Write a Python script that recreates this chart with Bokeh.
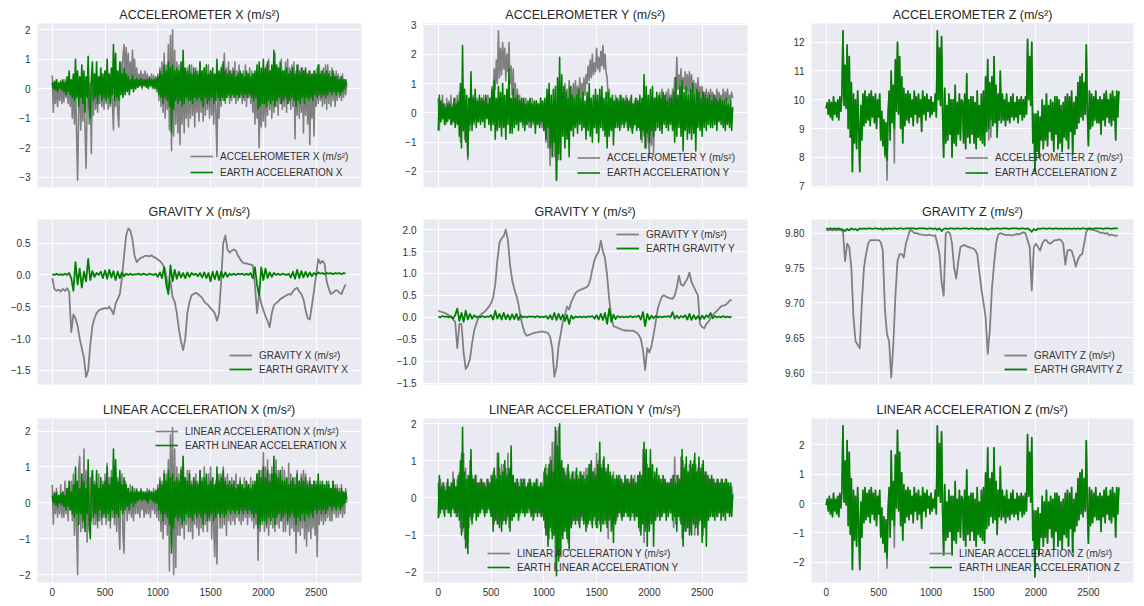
from bokeh.plotting import figure
from bokeh.models import Range1d, FixedTicker, CustomJSTickFormatter, Legend
from bokeh.layouts import column, row
from bokeh.embed import file_html
from bokeh.resources import INLINE

# sample indices: noisy signals read every 10th sample, smooth gravity every 20th
X10 = list(range(0, 2800, 10))
X20 = list(range(0, 2800, 20))
X_TICKS = [0, 500, 1000, 1500, 2000, 2500]

titles = ["ACCELEROMETER X (m/s²)", "ACCELEROMETER Y (m/s²)", "ACCELEROMETER Z (m/s²)",
          "GRAVITY X (m/s²)", "GRAVITY Y (m/s²)", "GRAVITY Z (m/s²)",
          "LINEAR ACCELERATION X (m/s²)", "LINEAR ACCELERATION Y (m/s²)", "LINEAR ACCELERATION Z (m/s²)"]
earth_labels = ["EARTH ACCELERATION X", "EARTH ACCELERATION Y", "EARTH ACCELERATION Z",
                "EARTH GRAVITY X", "EARTH GRAVITY Y", "EARTH GRAVITY Z",
                "EARTH LINEAR ACCELERATION X", "EARTH LINEAR ACCELERATION Y", "EARTH LINEAR ACCELERATION Z"]

acc_x = [0.45, -0.8, 0.2, -0.5, 0.3, -0.6, 0.1, -0.4, 0.25, -0.5,
         0.2, -0.45, 0.3, -0.3, 0.15, -0.5, 0.3, -0.6, 0.2, -1.0,
         0.4, -1.2, 0.5, -1.5, -3.1, -0.8, 0.3, -1.4, 0.2, -1.1,
         0.4, -1.3, -2.7, -0.6, 0.3, -1.2, 0.2, -2.2, 0.4, -0.9,
         0.5, -0.7, 0.3, -0.8, 0.4, -0.5, 0.5, -0.6, 0.3, -0.7,
         0.6, -0.5, 0.4, -0.7, 0.5, -0.6, 0.3, -0.5, -1.4, 0.4,
         -0.6, 0.5, -0.8, -1.3, 0.3, 0.9, 0.2, 1.1, 1.5, 0.3,
         1.4, 0.2, 1.2, 0.1, 0.9, 0.3, 1.3, 0.2, 1.0, 0.0,
         0.7, 0.05, 0.5, 0.1, 0.6, 0.0, 0.5, 0.15, 0.6, 0.1,
         0.5, 0.05, 0.4, 0.1, 0.5, 0.0, 0.45, 0.1, 0.4, -0.1,
         0.5, -0.4, 0.7, -0.6, 0.9, -0.8, 1.2, -1.0, 0.8, -0.7,
         1.5, -1.4, 1.8, -2.1, 2.0, -1.6, 1.3, -1.2, 0.9, -1.5,
         0.8, -1.9, 0.6, -1.2, 0.9, -1.5, 0.5, -1.0, 0.7, -1.3,
         0.6, -1.0, 0.8, -0.9, 0.5, -1.3, 0.7, -0.8, 0.6, -1.1,
         0.9, -0.8, 0.6, -1.1, 0.7, -0.9, 0.5, -0.7, 0.8, -1.0,
         0.6, -0.9, 0.5, -1.2, 0.4, -0.8, -2.3, 0.3, -1.0, 0.5,
         -0.6, 0.8, -0.4, 1.2, -0.5, 0.7, -0.3, 0.9, -0.5, 0.6,
         -0.4, 0.7, -0.3, 0.9, -0.5, 0.6, -0.4, 0.8, -0.3, 0.5,
         -0.5, 0.6, -0.4, 0.8, -0.6, 0.5, -0.3, 0.7, -0.5, 0.6,
         -0.8, 0.5, -1.2, 0.3, -1.0, 0.2, -2.0, 0.3, -1.3, 0.4,
         -1.1, 0.6, -1.3, 0.8, -0.9, 1.0, -0.7, 0.6, -1.0, 0.7,
         -0.8, 1.2, -0.6, 0.8, -0.9, 0.7, -0.5, 1.0, -0.7, 0.6,
         -0.6, 0.9, -0.8, 1.0, -0.5, 0.7, -0.7, 0.8, -0.6, 0.9,
         -1.7, 0.6, -0.9, 0.8, -1.0, 0.5, -0.8, 0.7, -1.5, 0.6,
         -0.9, 0.5, -1.2, 0.6, -1.9, 0.4, -1.0, 0.5, -1.6, 0.6,
         -0.6, 0.7, -0.5, 0.8, -0.4, 0.6, -0.6, 0.7, -0.5, 0.8,
         -0.7, 0.8, -0.5, 0.6, -0.6, 0.7, -0.4, 0.5, -0.6, 0.6,
         -0.4, 0.5, -0.3, 0.4, -0.4, 0.5, -0.3, 0.3, -0.2, 0.1]
earth_acc_x = [0.2, 0.0, 0.25, -0.05, 0.3, -0.1, 0.2, 0.0, 0.25, -0.05,
               0.3, -0.1, 0.2, -0.2, 0.4, -0.1, 0.6, -0.2, 0.3, -0.3,
               0.5, -0.4, 1.0, -0.3, 0.6, -0.6, 0.4, -0.3, 0.8, -0.5,
               0.6, -0.8, 0.4, -0.3, 1.1, -0.5, -1.0, 0.3, 0.9, -0.4,
               0.5, -0.3, 0.9, -0.5, 0.4, -0.2, 0.7, -0.4, 0.5, -0.3,
               0.6, -0.4, 1.0, -0.3, 0.5, -0.5, 0.7, -0.2, 1.5, -0.4,
               1.2, -0.3, 0.6, -0.4, 0.9, -0.2, 0.5, -0.3, 0.7, -0.2,
               0.5, -0.1, 0.4, -0.2, 0.3, 0.0, 0.45, -0.1, 0.3, 0.0,
               0.35, 0.05, 0.3, 0.1, 0.35, 0.05, 0.3, 0.1, 0.3, 0.05,
               0.3, 0.0, 0.35, 0.1, 0.3, 0.05, 0.3, 0.0, 0.35, 0.0,
               0.4, -0.2, 0.6, -0.3, 0.5, -0.5, 0.8, -0.3, 0.6, -0.4,
               0.9, -0.6, 0.7, -1.5, 0.8, -0.7, 0.6, -0.4, 0.7, -0.5,
               0.6, -0.4, 0.9, -0.6, 1.3, -0.5, 0.7, -0.3, 0.6, -0.4,
               0.8, -0.4, 0.5, -0.5, 0.7, -0.3, 0.6, -0.4, 0.5, -0.3,
               0.9, -0.4, 0.6, -0.6, 0.7, -0.3, 0.8, -0.5, 0.5, -0.4,
               0.6, -0.3, 0.7, -0.5, 0.5, -0.4, 1.0, -0.3, 0.6, -0.4,
               0.7, -0.3, 0.9, -0.4, 0.6, -0.3, 0.5, -0.2, 0.6, -0.3,
               0.5, -0.2, 0.6, -0.3, 0.4, -0.2, 0.5, -0.3, 0.6, -0.2,
               0.5, -0.3, 0.4, -0.2, 0.6, -0.3, 0.5, -0.2, 0.4, -0.3,
               0.5, -0.4, 0.6, -0.3, 0.8, -0.7, 0.9, -0.6, 0.7, -0.5,
               1.0, -0.5, 0.7, -0.6, 0.9, -0.4, 0.6, -0.5, 0.8, -0.4,
               1.3, -0.6, 0.8, -0.4, 0.7, -0.3, 0.9, -0.5, 0.6, -0.4,
               0.6, -0.3, 0.7, -0.5, 0.5, -0.4, 0.6, -0.3, 0.7, -0.4,
               0.5, -0.6, 0.8, -0.4, 0.6, -0.5, 0.7, -0.3, 0.6, -0.5,
               0.7, -0.3, 0.5, -0.4, 0.6, -0.3, 0.5, -0.4, 0.6, -0.2,
               0.5, -0.3, 0.8, -0.2, 0.5, -0.3, 0.6, -0.2, 0.5, -0.3,
               0.6, -0.2, 0.5, -0.1, 0.4, -0.2, 0.6, -0.1, 0.4, -0.2,
               0.4, -0.1, 0.3, -0.2, 0.4, -0.1, 0.3, 0.0, 0.3, 0.1]

acc_y = [0.5, -0.6, 0.4, -0.3, 0.6, -0.2, 0.3, -0.4, 0.5, -0.3,
         0.4, -0.2, 0.6, -0.4, 0.3, -0.3, 0.5, -0.2, 0.6, -0.4,
         0.7, -1.0, 0.5, -0.6, 0.6, -0.9, 0.4, -0.5, -1.6, 0.3,
         -0.6, 0.5, -0.3, 0.6, -0.4, 0.4, -0.2, 0.5, -0.3, 0.4,
         0.0, 0.5, 0.1, 0.6, -0.1, 0.5, 0.2, 0.6, 0.1, 0.5,
         0.3, 0.9, 0.5, 1.5, 0.8, 1.8, 1.0, 2.8, 1.2, 2.2,
         1.3, 2.4, 1.5, 2.2, 1.1, 2.0, 1.4, 2.4, 1.0, 1.6,
         0.6, 1.5, 0.3, 1.0, -0.2, 0.8, 0.0, 0.6, -0.3, 0.5,
         -0.5, 0.4, -0.3, 0.5, -0.4, 0.3, -0.5, 0.4, -0.3, 0.5,
         -0.4, 0.3, -0.5, 0.4, -0.3, 0.3, -0.4, 0.5, -0.5, 0.3,
         -0.6, 0.2, -1.0, 0.1, -1.2, -0.2, -1.8, -0.4, -1.0, 0.3,
         -1.5, -0.3, -2.3, -0.8, -1.6, -0.2, 0.6, -0.5, 0.4, -0.3,
         1.0, 0.2, 0.8, 0.0, 1.1, 0.3, 0.9, 0.2, 1.0, 0.4,
         1.1, 0.4, 0.9, 0.3, 1.2, 0.5, 1.0, 0.4, 1.2, 0.6,
         1.3, 1.0, 1.6, 1.1, 1.8, 1.2, 2.0, 1.3, 1.7, 1.4,
         2.2, 1.5, 1.9, 1.4, 2.1, 1.6, 2.3, 1.5, 2.0, 1.4,
         1.2, 0.5, 0.8, -0.3, 0.5, -0.2, 0.4, -0.3, 0.6, -0.2,
         0.5, -0.4, 0.6, -0.5, 0.4, -0.3, 0.5, -0.4, 0.6, -0.5,
         0.4, -0.4, 0.5, -0.6, 0.3, -0.5, 0.4, -0.4, 0.5, -0.5,
         0.4, -0.6, 0.3, -1.0, 0.1, -0.8, 0.2, -1.2, -0.2, -0.9,
         -1.5, 0.0, -1.1, 0.2, -1.4, 0.3, 0.5, -0.2, 0.4, 0.0,
         0.7, 0.1, 0.8, 0.2, 0.6, 0.0, 0.7, 0.2, 0.8, 0.3,
         0.6, 0.3, 0.8, 0.4, 1.2, 0.6, 1.9, 0.8, 1.3, 0.7,
         1.5, 0.6, 1.2, 0.8, 1.4, 0.7, 1.3, 0.6, 1.4, 0.7,
         1.3, 0.5, 1.1, 0.6, 1.0, 0.4, 1.2, 0.5, 0.9, 0.4,
         0.9, 0.3, 0.7, 0.4, 0.8, 0.2, 0.7, 0.3, 0.8, 0.3,
         0.7, 0.3, 0.6, 0.2, 0.8, 0.3, 0.7, 0.4, 0.6, 0.3,
         0.8, 0.3, 0.7, 0.4, 0.8, 0.3, 0.6, 0.4, 0.7, 0.5]
earth_acc_y = [-0.6, 0.6, -0.3, 0.4, -0.2, 0.3, -0.4, 0.2, -0.3, 0.3,
               -0.2, 0.3, -0.4, 0.2, -0.3, 0.5, -0.5, 0.3, -0.4, 0.4,
               -0.8, 1.0, -1.2, 2.3, -0.6, 0.8, -1.0, 0.6, -1.5, 0.5,
               -0.4, 1.4, -0.6, 0.5, -0.3, 0.8, -0.5, 0.4, -0.3, 0.6,
               -0.4, 0.5, -0.3, 0.4, -0.5, 0.6, -0.2, 0.3, -0.4, 0.5,
               -0.6, 0.8, -0.4, 1.1, -0.9, 0.5, -0.6, 0.9, -0.5, 0.7,
               -0.8, 1.0, -0.5, 0.6, -0.9, 0.8, -0.4, 1.5, -0.7, 0.5,
               -0.7, 0.8, -0.5, 0.5, -0.4, 0.6, -0.6, 0.4, -0.3, 0.5,
               -0.4, 0.5, -0.6, 0.3, -0.4, 0.4, -0.3, 0.5, -0.5, 0.3,
               -0.3, 0.4, -0.7, 0.4, -0.4, 0.3, -0.5, 0.5, -0.3, 0.4,
               -0.6, 0.5, -0.9, 0.8, -0.5, 1.0, -1.2, 0.6, -1.5, 0.8,
               -1.0, 0.9, -2.3, 1.2, -1.4, 1.9, -1.6, 1.3, -0.8, 0.9,
               -1.2, 0.7, -0.9, 0.5, -1.5, 0.9, -0.6, 0.6, -0.8, 0.5,
               -0.5, 0.6, -0.7, 0.8, -0.4, 0.5, -0.6, 0.7, -0.5, 0.4,
               -0.9, 0.7, -0.6, 1.0, -0.8, 0.5, -1.0, 0.6, -0.5, 0.8,
               -0.7, 0.6, -1.0, 0.8, -0.5, 0.9, -0.6, 0.5, -0.8, 0.7,
               -1.2, 0.7, -0.8, 0.5, -0.6, 0.6, -1.1, 0.4, -0.5, 0.5,
               -0.5, 0.4, -0.6, 0.6, -0.4, 0.5, -0.5, 0.4, -0.3, 0.5,
               -0.6, 0.4, -0.5, 0.6, -0.7, 0.3, -0.4, 0.5, -0.6, 0.4,
               -0.5, 0.6, -0.9, 0.5, -0.6, 1.3, -1.2, 0.9, -0.7, 0.6,
               -1.0, 0.8, -0.6, 0.9, -0.8, 0.5, -0.6, 0.7, -0.5, 0.6,
               -0.6, 0.5, -0.7, 0.7, -0.4, 0.6, -0.5, 0.4, -0.6, 0.5,
               -0.4, 0.5, -0.6, 0.7, -1.0, 1.2, -0.8, 0.6, -0.5, 0.9,
               -0.8, 1.1, -1.3, 0.7, -0.6, 0.9, -0.9, 0.6, -0.7, 0.8,
               -0.9, 1.0, -0.7, 0.6, -1.3, 0.8, -0.5, 0.7, -0.6, 0.5,
               -0.8, 0.7, -0.5, 0.6, -0.6, 0.5, -0.4, 0.6, -0.5, 0.4,
               -0.5, 0.6, -0.4, 0.5, -0.6, 0.4, -0.3, 0.5, -0.4, 0.4,
               -0.5, 0.4, -0.6, 0.5, -0.4, 0.3, -0.5, 0.4, -0.6, 0.2]

acc_z = [9.7, 9.9, 9.5, 10.0, 9.4, 9.9, 9.3, 10.1, 9.5, 9.9,
         9.4, 10.0, 9.3, 10.1, 9.6, 10.2, 12.4, 9.8, 11.2, 9.7,
         11.9, 9.0, 11.5, 8.7, 10.6, 7.5, 10.2, 8.5, 10.0, 8.3,
         10.3, 9.0, 7.5, 9.8, 8.6, 10.2, 9.1, 10.3, 9.2, 10.1,
         9.3, 10.2, 9.1, 10.3, 9.4, 10.1, 9.2, 10.2, 9.0, 10.0,
         9.4, 10.2, 8.6, 9.6, 8.4, 9.3, 8.0, 9.2, 7.2, 9.5,
         10.3, 8.6, 11.0, 9.2, 10.5, 7.8, 11.4, 9.6, 12.0, 9.5,
         11.5, 9.0, 10.8, 8.5, 10.4, 9.1, 10.2, 9.3, 10.3, 9.2,
         10.2, 9.4, 10.0, 9.1, 10.3, 9.5, 10.1, 9.2, 10.2, 9.4,
         10.0, 8.9, 10.3, 9.5, 10.1, 9.3, 10.2, 9.6, 10.0, 9.4,
         10.1, 9.5, 9.9, 9.6, 10.2, 9.4, 12.4, 10.0, 11.8, 9.8,
         12.2, 9.5, 8.0, 10.4, 8.5, 9.8, 8.6, 10.2, 8.8, 10.0,
         8.0, 10.0, 8.5, 10.5, 8.4, 9.9, 8.8, 10.2, 8.6, 10.0,
         9.9, 8.5, 10.2, 8.3, 10.9, 8.7, 10.0, 8.5, 10.1, 8.8,
         10.1, 8.5, 9.9, 8.3, 10.3, 8.7, 9.8, 8.6, 10.2, 8.5,
         10.3, 8.4, 10.8, 8.9, 11.4, 8.6, 10.6, 8.7, 10.8, 9.1,
         11.5, 9.2, 10.5, 8.7, 10.2, 9.3, 11.0, 9.2, 10.2, 9.3,
         10.0, 9.1, 10.2, 9.3, 9.9, 9.2, 10.1, 9.4, 10.2, 9.3,
         9.9, 9.4, 10.1, 9.2, 10.0, 9.5, 10.1, 9.3, 10.0, 9.4,
         10.1, 9.5, 12.1, 10.0, 11.5, 9.8, 12.0, 8.5, 9.5, 7.5,
         9.5, 8.2, 9.6, 8.0, 9.4, 8.6, 10.0, 8.3, 9.8, 8.6,
         10.2, 8.4, 9.8, 8.9, 10.0, 8.6, 9.9, 8.2, 10.1, 8.8,
         10.1, 8.3, 10.0, 8.5, 9.8, 8.2, 9.9, 8.7, 10.1, 8.6,
         10.2, 8.3, 10.1, 8.9, 10.3, 8.1, 9.9, 8.8, 10.1, 9.0,
         10.6, 9.2, 10.8, 9.4, 10.9, 9.3, 10.6, 9.5, 11.9, 9.6,
         8.4, 10.3, 9.0, 10.2, 9.1, 10.1, 9.3, 10.3, 9.2, 10.0,
         9.2, 10.1, 8.8, 10.0, 9.3, 10.2, 9.1, 10.3, 9.4, 10.0,
         9.2, 10.2, 9.1, 10.3, 9.3, 10.1, 8.6, 10.3, 9.4, 10.3]
earth_acc_z = [9.7, 9.9, 9.5, 10.0, 9.4, 9.9, 9.3, 10.1, 9.5, 9.9,
               9.4, 10.0, 9.3, 10.1, 9.6, 10.2, 12.4, 9.8, 11.2, 9.7,
               11.9, 9.0, 11.5, 8.7, 10.6, 7.5, 10.2, 8.5, 10.0, 8.3,
               10.3, 9.0, 7.5, 9.8, 8.6, 10.2, 9.1, 10.3, 9.2, 10.1,
               9.3, 10.2, 9.1, 10.3, 9.4, 10.1, 9.2, 10.2, 9.0, 10.0,
               9.4, 10.2, 8.6, 9.6, 8.4, 9.3, 8.1, 9.2, 7.9, 9.5,
               10.3, 8.6, 11.0, 9.2, 10.5, 9.0, 11.4, 9.6, 12.0, 9.5,
               11.5, 9.0, 10.8, 8.5, 10.4, 9.1, 10.2, 9.3, 10.3, 9.2,
               10.2, 9.4, 10.0, 9.1, 10.3, 9.5, 10.1, 9.2, 10.2, 9.4,
               10.0, 8.9, 10.3, 9.5, 10.1, 9.3, 10.2, 9.6, 10.0, 9.4,
               10.1, 9.5, 9.9, 9.6, 10.2, 9.4, 12.4, 10.0, 11.8, 9.8,
               12.2, 9.5, 8.0, 10.4, 8.5, 9.8, 8.6, 10.2, 8.8, 10.0,
               8.0, 10.0, 8.5, 10.5, 8.4, 9.9, 8.8, 10.2, 8.6, 10.0,
               9.9, 8.5, 10.2, 8.3, 10.9, 8.7, 10.0, 8.5, 10.1, 8.8,
               10.1, 8.5, 9.9, 8.3, 10.3, 8.7, 9.8, 8.6, 10.2, 8.5,
               10.3, 8.4, 10.8, 8.9, 11.4, 9.0, 10.6, 9.3, 10.8, 9.1,
               11.5, 9.2, 10.5, 8.7, 10.2, 9.3, 11.0, 9.2, 10.2, 9.3,
               10.0, 9.1, 10.2, 9.3, 9.9, 9.2, 10.1, 9.4, 10.2, 9.3,
               9.9, 9.4, 10.1, 9.2, 10.0, 9.5, 10.1, 9.3, 10.0, 9.4,
               10.1, 9.5, 12.1, 10.0, 11.5, 9.8, 12.0, 8.5, 9.5, 7.5,
               9.5, 8.2, 9.6, 8.0, 9.4, 8.6, 10.0, 8.3, 9.8, 8.6,
               10.2, 8.4, 9.8, 8.9, 10.0, 8.6, 9.9, 8.2, 10.1, 8.8,
               10.1, 8.3, 10.0, 8.5, 9.8, 8.2, 9.9, 8.7, 10.1, 8.6,
               10.2, 8.3, 10.1, 8.9, 10.3, 8.1, 9.9, 8.8, 10.1, 9.0,
               10.6, 9.2, 10.8, 9.4, 10.9, 9.3, 10.6, 9.5, 11.9, 9.6,
               8.4, 10.3, 9.0, 10.2, 9.1, 10.1, 9.3, 10.3, 9.2, 10.0,
               9.2, 10.1, 8.8, 10.0, 9.3, 10.2, 9.1, 10.3, 9.4, 10.0,
               9.2, 10.2, 9.1, 10.3, 9.3, 10.1, 8.6, 10.3, 9.4, 10.3]

grav_x = [-0.05, -0.22, -0.25, -0.23, -0.26, -0.22, -0.25, -0.21, -0.27, -0.9,
          -0.62, -0.68, -0.8, -1.0, -1.15, -1.3, -1.6, -1.5, -1.1, -0.8,
          -0.68, -0.6, -0.56, -0.54, -0.53, -0.52, -0.53, -0.5, -0.55, -0.62,
          -0.45, -0.38, -0.3, -0.05, 0.3, 0.62, 0.73, 0.7, 0.55, 0.3,
          0.2, 0.24, 0.27, 0.28, 0.3, 0.3, 0.29, 0.31, 0.28, 0.27,
          0.24, 0.22, 0.18, 0.12, 0.0, -0.25, -0.1, -0.35, -0.42, -0.6,
          -0.85, -1.05, -1.18, -1.0, -0.6, -0.42, -0.32, -0.3, -0.28, -0.3,
          -0.33, -0.36, -0.42, -0.45, -0.48, -0.52, -0.56, -0.6, -0.72, -0.6,
          -0.1, 0.5, 0.62, 0.4, 0.35, 0.38, 0.4, 0.38, 0.3, 0.25,
          0.2, 0.18, 0.18, 0.17, 0.16, 0.15, -0.15, -0.6, -0.3, -0.45,
          -0.55, -0.65, -0.72, -0.82, -0.6, -0.48, -0.44, -0.42, -0.38, -0.36,
          -0.34, -0.32, -0.3, -0.31, -0.26, -0.22, -0.2, -0.26, -0.3, -0.38,
          -0.55, -0.68, -0.7, -0.48, -0.25, 0.0, 0.25, 0.18, 0.22, 0.18,
          -0.1, -0.22, -0.3, -0.28, -0.25, -0.24, -0.28, -0.3, -0.22, -0.15]
earth_grav_x = [0.01, 0.0, 0.02, 0.0, 0.01, 0.0, 0.02, 0.0, 0.03, -0.05,
                -0.25, 0.2, -0.15, 0.1, -0.2, 0.05, -0.1, 0.25, -0.08, 0.06,
                -0.03, 0.03, 0.0, 0.05, -0.05, 0.07, -0.06, 0.08, -0.04, 0.06,
                -0.08, 0.05, -0.05, 0.04, -0.02, 0.02, 0.0, 0.02, 0.0, 0.01,
                0.01, 0.02, 0.0, 0.02, 0.01, 0.0, 0.02, 0.01, 0.0, 0.02,
                -0.03, 0.04, -0.05, 0.12, -0.15, -0.3, 0.15, -0.1, 0.08, -0.06,
                0.05, -0.04, 0.03, -0.05, 0.04, -0.03, 0.03, 0.0, 0.02, -0.02,
                0.03, -0.04, 0.04, -0.05, 0.03, -0.1, 0.05, -0.07, 0.06, -0.08,
                0.05, -0.04, 0.04, -0.03, 0.02, 0.0, 0.02, 0.0, 0.02, 0.01,
                0.02, 0.0, 0.02, 0.0, 0.03, -0.05, 0.12, -0.15, -0.33, 0.12,
                -0.08, 0.1, -0.05, 0.04, -0.03, 0.03, 0.0, 0.02, 0.0, 0.02,
                0.01, 0.0, 0.02, -0.04, 0.05, -0.06, 0.08, -0.05, 0.06, -0.04,
                0.05, -0.03, 0.04, -0.02, 0.03, 0.0, 0.04, 0.02, 0.03, 0.01,
                0.03, 0.02, 0.03, 0.01, 0.03, 0.02, 0.03, 0.01, 0.03, 0.02]

grav_y = [0.15, 0.13, 0.12, 0.1, 0.08, 0.05, 0.02, -0.05, -0.1, -0.7,
          -0.15, -0.15, -0.8, -1.18, -1.1, -0.95, -0.6, -0.3, -0.15, 0.0,
          0.05, 0.1, 0.13, 0.18, 0.25, 0.32, 0.45, 0.75, 1.3, 1.7,
          1.8, 1.85, 2.0, 1.75, 1.2, 0.85, 0.65, 0.5, 0.3, 0.0,
          -0.2, -0.36, -0.42, -0.4, -0.38, -0.36, -0.35, -0.34, -0.33, -0.32,
          -0.33, -0.34, -0.36, -0.45, -0.7, -1.35, -1.15, -0.65, -0.38, -0.1,
          0.05, 0.25, 0.18, 0.35, 0.45, 0.55, 0.6, 0.62, 0.64, 0.66,
          0.68, 0.72, 0.85, 1.1, 1.3, 1.42, 1.5, 1.75, 1.5, 1.35,
          0.95, 0.4, 0.0, -0.2, -0.22, -0.24, -0.26, -0.28, -0.3, -0.3,
          -0.3, -0.31, -0.3, -0.32, -0.35, -0.4, -0.5, -0.75, -1.2, -0.7,
          -0.8, -0.65, -0.4, -0.1, 0.2, 0.35, 0.48, 0.5, 0.47, 0.45,
          0.43, 0.42, 0.5, 0.68, 0.95, 0.75, 0.72, 0.8, 0.88, 1.02,
          0.8, 0.7, 0.6, 0.5, -0.15, -0.22, -0.25, -0.15, -0.1, -0.02,
          0.05, 0.1, 0.15, 0.2, 0.25, 0.27, 0.28, 0.32, 0.38, 0.4]
earth_grav_y = [0.02, 0.0, 0.03, 0.01, 0.02, 0.0, 0.02, -0.03, 0.05, 0.2,
                -0.08, 0.1, -0.1, 0.15, -0.05, 0.08, -0.03, 0.05, 0.0, 0.02,
                0.0, 0.03, 0.0, 0.02, 0.01, 0.05, -0.05, 0.15, -0.03, 0.08,
                -0.05, 0.1, -0.04, 0.06, -0.05, 0.07, -0.04, 0.08, -0.06, 0.05,
                0.0, 0.02, 0.0, 0.02, 0.01, 0.02, 0.0, 0.03, 0.0, 0.02,
                0.0, 0.03, -0.03, 0.05, -0.05, 0.1, -0.06, 0.08, -0.05, 0.06,
                -0.08, 0.05, -0.15, 0.04, -0.03, 0.02, 0.0, 0.02, 0.0, 0.02,
                0.0, 0.02, 0.01, 0.03, -0.03, 0.05, -0.05, 0.08, -0.06, 0.1,
                -0.15, 0.2, -0.1, 0.06, -0.04, 0.03, 0.0, 0.02, 0.0, 0.02,
                0.0, 0.03, 0.0, 0.02, 0.01, 0.04, -0.05, 0.12, -0.2, 0.08,
                -0.05, 0.04, -0.02, 0.03, 0.0, 0.02, 0.0, 0.02, 0.01, 0.03,
                0.0, 0.12, -0.03, 0.04, -0.02, 0.03, 0.0, 0.05, -0.05, 0.08,
                -0.06, 0.05, -0.04, 0.03, -0.05, 0.04, -0.03, 0.05, 0.0, 0.1,
                -0.02, 0.03, 0.0, 0.02, 0.0, 0.03, 0.0, 0.02, 0.0, 0.02]

grav_z = [9.805, 9.804, 9.805, 9.804, 9.805, 9.804, 9.805, 9.804, 9.803, 9.76,
          9.785, 9.78, 9.75, 9.68, 9.645, 9.64, 9.635, 9.7, 9.75, 9.77,
          9.785, 9.79, 9.79, 9.79, 9.79, 9.79, 9.787, 9.775, 9.69, 9.655,
          9.645, 9.593, 9.64, 9.71, 9.76, 9.77, 9.77, 9.765, 9.785, 9.795,
          9.805, 9.803, 9.8, 9.8, 9.799, 9.798, 9.798, 9.797, 9.797, 9.798,
          9.797, 9.796, 9.797, 9.785, 9.77, 9.73, 9.71, 9.8, 9.802, 9.8,
          9.785, 9.75, 9.735, 9.76, 9.78, 9.782, 9.783, 9.781, 9.78, 9.779,
          9.778, 9.776, 9.77, 9.745, 9.72, 9.7, 9.68, 9.627, 9.66, 9.72,
          9.755, 9.785, 9.798, 9.8, 9.799, 9.798, 9.797, 9.798, 9.797, 9.797,
          9.798, 9.799, 9.798, 9.8, 9.801, 9.8, 9.79, 9.78, 9.718, 9.78,
          9.785, 9.78, 9.775, 9.785, 9.79, 9.79, 9.786, 9.785, 9.788, 9.79,
          9.79, 9.791, 9.79, 9.785, 9.755, 9.775, 9.776, 9.775, 9.765, 9.752,
          9.762, 9.768, 9.77, 9.785, 9.802, 9.806, 9.805, 9.805, 9.804, 9.803,
          9.802, 9.8, 9.801, 9.799, 9.8, 9.797, 9.798, 9.797, 9.796, 9.797]
earth_grav_z = [9.807, 9.806, 9.807, 9.806, 9.807, 9.806, 9.807, 9.806, 9.805, 9.803,
                9.806, 9.804, 9.807, 9.805, 9.806, 9.804, 9.807, 9.806, 9.807, 9.806,
                9.807, 9.807, 9.806, 9.807, 9.807, 9.806, 9.807, 9.805, 9.807, 9.806,
                9.807, 9.806, 9.807, 9.807, 9.806, 9.807, 9.807, 9.806, 9.807, 9.807,
                9.807, 9.807, 9.807, 9.806, 9.807, 9.807, 9.807, 9.807, 9.806, 9.807,
                9.807, 9.806, 9.807, 9.805, 9.807, 9.803, 9.806, 9.807, 9.806, 9.807,
                9.807, 9.806, 9.807, 9.807, 9.806, 9.807, 9.807, 9.807, 9.806, 9.807,
                9.807, 9.806, 9.807, 9.806, 9.807, 9.806, 9.807, 9.805, 9.806, 9.807,
                9.806, 9.807, 9.807, 9.806, 9.807, 9.807, 9.807, 9.806, 9.807, 9.807,
                9.807, 9.807, 9.806, 9.807, 9.807, 9.806, 9.807, 9.805, 9.802, 9.806,
                9.804, 9.807, 9.806, 9.807, 9.807, 9.806, 9.807, 9.807, 9.806, 9.807,
                9.807, 9.806, 9.807, 9.806, 9.807, 9.806, 9.807, 9.806, 9.807, 9.806,
                9.807, 9.806, 9.807, 9.807, 9.806, 9.807, 9.807, 9.806, 9.807, 9.807,
                9.807, 9.807, 9.806, 9.807, 9.807, 9.807, 9.806, 9.807, 9.807, 9.807]

lin_x = [0.5, -0.6, 0.3, -0.3, 0.4, -0.4, 0.2, -0.3, 0.5, -0.4,
         0.3, -0.4, 0.6, -0.3, 0.4, -0.5, 0.3, -0.2, 0.6, -0.5,
         0.8, -0.9, 0.5, -0.6, -2.0, 0.9, 1.3, -0.8, 0.6, -0.7,
         1.5, -0.5, 0.9, -1.1, 0.6, -0.8, 0.7, -0.5, 0.9, -0.6,
         0.6, -0.6, 0.5, -0.7, 0.8, -0.5, 0.4, -0.6, 0.6, -0.4,
         0.8, -0.6, 1.1, -0.5, 0.7, -0.7, 0.9, -0.4, 0.6, -0.6,
         1.0, -0.8, 0.7, -0.6, -1.3, 0.5, 0.8, -0.9, -1.4, 0.6,
         0.5, -0.5, 0.4, -0.3, 0.5, -0.4, 0.3, -0.5, 0.4, -0.3,
         0.4, -0.3, 0.3, -0.4, 0.4, -0.2, 0.3, -0.4, 0.2, -0.3,
         0.4, -0.3, 0.3, -0.4, 0.3, -0.2, 0.4, -0.3, 0.3, -0.4,
         0.5, -0.5, 0.7, -0.8, 0.6, -1.0, 0.9, -0.6, 0.8, -0.9,
         1.2, -1.9, 1.9, -1.2, 2.1, -2.0, 1.5, -1.8, 1.0, -0.9,
         0.8, -0.9, 1.0, -0.7, 1.2, -1.0, 0.7, -0.6, 0.9, -0.8,
         0.9, -0.8, 0.6, -1.0, 0.7, -0.6, 0.8, -0.7, 0.6, -0.9,
         0.9, -0.7, 0.7, -0.8, 1.0, -0.6, 0.6, -0.8, 0.8, -0.5,
         1.0, -1.0, 0.7, -0.8, -1.5, 0.6, -1.7, 0.5, 0.8, -0.7,
         0.8, -0.7, 1.0, -0.6, 0.7, -0.9, 0.8, -0.5, 0.6, -0.6,
         0.7, -0.5, 0.6, -0.6, 0.8, -0.4, 0.5, -0.5, 0.7, -0.6,
         0.5, -0.5, 0.7, -0.4, 0.6, -0.6, 0.5, -0.4, 0.7, -0.5,
         0.6, -0.7, 0.5, -0.6, 0.8, -1.6, 0.7, -0.8, 0.9, -0.6,
         1.4, -0.8, 1.0, -0.7, 1.2, -0.9, 0.8, -0.6, 1.0, -0.7,
         0.8, -0.8, 1.2, -0.6, 0.9, -0.7, 0.8, -0.5, 1.0, -0.8,
         0.9, -0.8, 0.7, -0.6, 1.1, -0.9, 0.8, -0.7, 0.6, -0.8,
         0.7, -1.4, 0.9, -0.8, 0.6, -0.9, 0.8, -0.7, 0.9, -1.0,
         0.8, -1.2, 0.6, -0.8, 0.7, -1.0, 0.5, -0.7, 0.6, -0.9,
         0.6, -1.5, 0.5, -0.6, 0.6, -0.5, 0.5, -0.6, 0.4, -0.5,
         0.5, -0.4, 0.6, -0.5, 0.4, -0.5, 0.6, -0.3, 0.5, -0.4,
         0.5, -0.4, 0.4, -0.3, 0.5, -0.4, 0.3, -0.3, 0.4, 0.0]
earth_lin_x = [0.2, 0.0, 0.25, -0.05, 0.3, -0.1, 0.2, 0.0, 0.25, -0.05,
               0.3, -0.1, 0.2, -0.2, 0.4, -0.1, 0.6, -0.2, 0.3, -0.3,
               0.5, -0.4, 1.0, -0.3, 0.6, -0.6, 0.4, -0.3, 0.8, -0.5,
               0.6, -0.8, 0.4, -0.3, 1.2, -0.5, -1.0, 0.3, 0.9, -0.4,
               0.5, -0.3, 0.9, -0.5, 0.4, -0.2, 0.7, -0.4, 0.5, -0.3,
               0.6, -0.4, 1.0, -0.3, 0.5, -0.5, 0.7, -0.2, 1.5, -0.4,
               1.2, -0.3, 0.6, -0.4, 0.9, -0.2, 0.5, -0.3, 0.7, -0.2,
               0.5, -0.1, 0.4, -0.2, 0.3, 0.0, 0.45, -0.1, 0.3, 0.0,
               0.35, 0.05, 0.3, 0.1, 0.35, 0.05, 0.3, 0.1, 0.3, 0.05,
               0.3, 0.0, 0.35, 0.1, 0.3, 0.05, 0.3, 0.0, 0.35, 0.0,
               0.4, -0.2, 0.6, -0.3, 0.5, -0.5, 0.8, -0.3, 0.6, -0.4,
               0.9, -0.6, 0.7, -1.4, 0.8, -0.7, 0.6, -0.4, 0.7, -0.5,
               0.6, -0.4, 0.9, -0.6, 1.3, -0.5, 0.7, -0.3, 0.6, -0.4,
               0.8, -0.4, 0.5, -0.5, 0.7, -0.3, 0.6, -0.4, 0.5, -0.3,
               0.9, -0.4, 0.6, -0.6, 0.7, -0.3, 0.8, -0.5, 0.5, -0.4,
               0.6, -0.3, 0.7, -0.5, 0.5, -0.4, 1.0, -0.3, 0.6, -0.4,
               0.7, -0.3, 0.9, -0.4, 0.6, -0.3, 0.5, -0.2, 0.6, -0.3,
               0.5, -0.2, 0.6, -0.3, 0.4, -0.2, 0.5, -0.3, 0.6, -0.2,
               0.5, -0.3, 0.4, -0.2, 0.6, -0.3, 0.5, -0.2, 0.4, -0.3,
               0.5, -0.4, 0.6, -0.3, 0.8, -0.7, 0.9, -0.6, 0.7, -0.5,
               1.0, -0.5, 0.7, -0.6, 0.9, -0.4, 0.6, -0.5, 0.8, -0.4,
               1.3, -0.6, 0.8, -0.4, 0.7, -0.3, 0.9, -0.5, 0.6, -0.4,
               0.6, -0.3, 0.7, -0.5, 0.5, -0.4, 0.6, -0.3, 0.7, -0.4,
               0.5, -0.6, 0.8, -0.4, 0.6, -0.5, 0.7, -0.3, 0.6, -0.5,
               0.7, -0.3, 0.5, -0.4, 0.6, -0.3, 0.5, -0.4, 0.6, -0.2,
               0.5, -0.3, 0.8, -0.2, 0.5, -0.3, 0.6, -0.2, 0.5, -0.3,
               0.6, -0.2, 0.5, -0.1, 0.4, -0.2, 0.6, -0.1, 0.4, -0.2,
               0.4, -0.1, 0.3, -0.2, 0.4, -0.1, 0.3, 0.0, 0.3, 0.1]

lin_y = [0.4, -0.5, 0.5, -0.3, 0.4, -0.4, 0.3, -0.3, 0.4, -0.4,
         0.3, -0.4, 0.4, -0.3, 0.7, -0.4, 0.3, -0.5, 0.5, -0.4,
         0.7, -0.8, 1.2, -0.9, 1.2, -1.1, 0.8, -1.3, 0.6, -0.8,
         1.0, -0.6, 0.6, -0.5, 0.5, -0.4, 0.6, -0.5, 0.4, -0.4,
         0.5, -0.3, 0.4, -0.4, 0.4, -0.4, 0.5, -0.3, 0.4, -0.4,
         0.6, -0.5, 0.7, -0.7, 0.6, -0.6, 1.2, -0.7, 0.8, -0.6,
         0.9, -0.7, 0.9, -0.6, 0.8, -0.6, 1.2, -0.8, 0.7, -0.6,
         0.5, -0.5, 0.4, -0.4, 0.5, -0.4, 0.4, -0.5, 0.5, -0.3,
         0.4, -0.4, 0.5, -0.4, 0.3, -0.4, 0.5, -0.4, 0.4, -0.4,
         0.4, -0.5, 0.4, -0.4, 0.5, -0.4, 0.3, -0.5, 0.4, -0.4,
         0.7, -0.8, 0.9, -1.0, 0.8, -1.1, 1.1, -0.9, 1.5, -1.0,
         1.5, -1.9, 1.8, -1.5, 1.9, -1.6, 0.9, -1.0, 0.8, -0.9,
         0.7, -0.8, 0.8, -1.2, 0.7, -0.7, 0.6, -0.7, 0.7, -0.6,
         0.7, -0.6, 0.6, -0.7, 0.7, -0.6, 0.6, -0.6, 0.7, -0.6,
         0.8, -0.8, 0.8, -0.6, 0.9, -0.7, 0.7, -0.6, 0.8, -0.7,
         1.2, -0.8, 1.0, -0.7, 0.9, -0.6, 1.0, -0.7, 0.8, -0.7,
         0.8, -1.1, 0.6, -0.5, 0.5, -0.6, 0.7, -0.5, 0.5, -0.6,
         0.5, -0.4, 0.6, -0.5, 0.5, -0.5, 0.4, -0.4, 0.5, -0.5,
         0.5, -0.5, 0.5, -0.5, 0.5, -0.5, 0.6, -0.5, 0.4, -0.5,
         0.6, -0.9, 0.6, -0.7, 1.3, -1.2, 1.2, -0.8, 0.9, -0.7,
         0.8, -0.6, 0.6, -0.5, 0.5, -0.5, 0.6, -0.5, 0.4, -0.4,
         0.5, -0.5, 0.4, -0.4, 0.5, -0.4, 0.4, -0.4, 0.4, -0.3,
         0.5, -0.4, 0.6, -0.8, 1.1, -0.7, 0.6, -0.5, 0.5, -0.6,
         1.1, -1.1, 1.0, -0.7, 0.9, -0.9, 0.7, -0.8, 0.9, -0.9,
         0.8, -0.6, 1.0, -1.0, 0.9, -0.7, 0.8, -0.7, 0.7, -0.6,
         0.9, -1.0, 0.6, -0.6, 0.7, -0.5, 0.6, -0.5, 0.5, -0.4,
         0.5, -0.5, 0.4, -0.4, 0.5, -0.5, 0.4, -0.4, 0.5, -0.4,
         0.4, -0.4, 0.5, -0.3, 0.4, -0.4, 0.3, -0.4, 0.3, 0.0]
earth_lin_y = [-0.55, 0.6, -0.4, 0.3, -0.3, 0.4, -0.5, 0.2, -0.3, 0.5,
               -0.4, 0.3, -0.5, 0.4, -0.3, 0.5, -0.4, 0.3, -0.5, 0.6,
               -0.6, 1.0, -1.0, 1.9, -0.8, 0.7, -1.35, 0.5, -1.5, 0.6,
               -0.5, 1.3, -0.7, 0.5, -0.4, 0.6, -0.6, 0.4, -0.5, 0.4,
               -0.4, 0.5, -0.3, 0.4, -0.5, 0.3, -0.4, 0.5, -0.3, 0.4,
               -0.5, 0.6, -0.9, 0.8, -0.6, 0.5, -0.7, 1.2, -0.8, 0.6,
               -0.9, 0.7, -0.6, 1.0, -0.7, 0.6, -0.5, 0.8, -0.9, 1.4,
               -0.6, 0.6, -0.5, 0.4, -0.4, 0.5, -0.6, 0.3, -0.4, 0.5,
               -0.4, 0.5, -0.5, 0.3, -0.4, 0.4, -0.3, 0.5, -0.5, 0.3,
               -0.6, 0.4, -0.4, 0.5, -0.5, 0.3, -0.4, 0.4, -0.5, 0.3,
               -0.6, 0.8, -1.0, 0.6, -1.3, 0.9, -0.8, 1.0, -1.1, 0.7,
               -1.0, 1.9, -2.1, 1.4, -1.7, 2.0, -1.5, 1.0, -1.1, 0.8,
               -0.9, 0.6, -1.1, 0.9, -1.4, 0.5, -0.8, 0.7, -0.6, 0.5,
               -0.7, 0.8, -0.6, 0.5, -0.8, 0.7, -0.5, 0.6, -0.7, 0.5,
               -0.9, 0.6, -0.7, 0.9, -0.6, 1.0, -0.8, 0.7, -0.5, 0.6,
               -0.8, 0.9, -0.6, 1.5, -0.9, 0.8, -0.7, 1.1, -0.6, 0.7,
               -0.8, 0.9, -0.6, 0.7, -0.9, 0.6, -1.2, 0.5, -0.7, 0.6,
               -0.5, 0.6, -0.4, 0.5, -0.6, 0.4, -0.5, 0.6, -0.4, 0.5,
               -0.5, 0.4, -0.6, 0.6, -0.4, 0.5, -0.6, 0.4, -0.5, 0.6,
               -0.8, 0.7, -1.0, 0.6, -0.7, 1.5, -0.9, 1.3, -1.3, 0.8,
               -0.9, 1.3, -0.7, 0.9, -1.3, 0.7, -0.6, 0.8, -0.5, 0.6,
               -0.6, 0.5, -0.5, 0.6, -0.4, 0.5, -0.6, 0.4, -0.5, 0.4,
               -0.4, 0.5, -0.6, 0.6, -0.5, 0.4, -0.9, 0.6, -0.5, 0.5,
               -0.7, 1.3, -1.3, 0.8, -0.9, 1.1, -0.8, 0.7, -1.0, 1.0,
               -1.0, 0.9, -0.7, 1.2, -0.8, 0.7, -1.0, 1.1, -0.6, 0.8,
               -1.2, 1.0, -0.8, 0.7, -1.3, 0.6, -0.6, 0.5, -0.5, 0.6,
               -0.5, 0.5, -0.6, 0.4, -0.5, 0.5, -0.4, 0.4, -0.6, 0.5,
               -0.5, 0.4, -0.6, 0.5, -0.4, 0.4, -0.5, 0.4, -0.5, 0.1]

lin_z = [-0.05, 0.15, -0.25, 0.25, -0.35, 0.15, -0.45, 0.35, -0.25, 0.15,
         -0.35, 0.25, -0.45, 0.35, -0.15, 0.45, 2.65, 0.05, 1.45, -0.05,
         2.15, -0.75, 1.75, -1.05, 0.85, -2.25, 0.45, -1.25, 0.25, -1.45,
         0.55, -0.75, -2.25, 0.05, -1.15, 0.45, -0.65, 0.55, -0.55, 0.35,
         -0.45, 0.45, -0.65, 0.55, -0.35, 0.35, -0.55, 0.45, -0.75, 0.25,
         -0.35, 0.45, -1.15, -0.15, -1.35, -0.45, -1.65, -0.55, -2.2, -0.25,
         0.55, -1.15, 1.8, -0.55, 0.75, -1.5, 1.65, -0.15, 2.5, -0.25,
         1.75, -0.75, 1.05, -1.25, 0.65, -0.65, 0.45, -0.45, 0.55, -0.55,
         0.45, -0.35, 0.25, -0.65, 0.55, -0.25, 0.35, -0.55, 0.45, -0.35,
         0.25, -0.85, 0.55, -0.25, 0.35, -0.45, 0.45, -0.15, 0.25, -0.35,
         0.35, -0.25, 0.15, -0.15, 0.45, -0.35, 2.65, 0.25, 2.05, 0.05,
         2.45, -0.25, -1.75, 0.65, -1.25, 0.05, -1.15, 0.45, -0.95, 0.25,
         -1.75, 0.25, -1.25, 0.75, -1.35, 0.15, -0.95, 0.45, -1.15, 0.25,
         0.15, -1.25, 0.45, -1.45, 1.15, -1.05, 0.25, -1.25, 0.35, -0.95,
         0.35, -1.25, 0.15, -1.45, 0.55, -1.05, 0.05, -1.15, 0.45, -1.25,
         0.55, -1.35, 1.05, -0.85, 1.9, -0.75, 0.85, -0.45, 1.05, -0.65,
         1.9, -0.55, 0.75, -1.05, 0.45, -0.45, 1.25, -0.55, 0.45, -0.45,
         0.25, -0.65, 0.45, -0.45, 0.15, -0.55, 0.35, -0.35, 0.45, -0.45,
         0.15, -0.35, 0.35, -0.55, 0.25, -0.25, 0.35, -0.45, 0.25, -0.35,
         0.35, -0.25, 2.35, 0.25, 1.75, 0.05, 2.25, -1.25, -0.25, -2.5,
         -0.25, -1.55, -0.15, -1.75, -0.35, -1.15, 0.25, -1.45, 0.05, -1.15,
         0.45, -1.35, 0.05, -0.85, 0.25, -1.15, 0.15, -1.55, 0.35, -0.95,
         0.35, -1.45, 0.25, -1.25, 0.05, -1.55, 0.15, -1.05, 0.35, -1.15,
         0.45, -1.45, 0.35, -0.85, 0.55, -1.65, 0.15, -0.95, 0.35, -0.75,
         0.85, -0.55, 1.05, -0.35, 1.15, -0.45, 0.85, -0.25, 2.15, -0.15,
         -1.35, 0.55, -0.75, 0.45, -0.65, 0.35, -0.45, 0.55, -0.55, 0.25,
         -0.55, 0.35, -0.95, 0.25, -0.45, 0.45, -0.65, 0.55, -0.35, 0.25,
         -0.55, 0.45, -0.65, 0.55, -0.45, 0.35, -1.15, 0.55, -0.35, 0.55]
earth_lin_z = [-0.05, 0.15, -0.25, 0.25, -0.35, 0.15, -0.45, 0.35, -0.25, 0.15,
               -0.35, 0.25, -0.45, 0.35, -0.15, 0.45, 2.65, 0.05, 1.45, -0.05,
               2.15, -0.75, 1.75, -1.05, 0.85, -2.25, 0.45, -1.25, 0.25, -1.45,
               0.55, -0.75, -2.25, 0.05, -1.15, 0.45, -0.65, 0.55, -0.55, 0.35,
               -0.45, 0.45, -0.65, 0.55, -0.35, 0.35, -0.55, 0.45, -0.75, 0.25,
               -0.35, 0.45, -1.15, -0.15, -1.35, -0.45, -1.65, -0.55, -1.85, -0.25,
               0.55, -1.15, 1.8, -0.55, 0.75, -0.75, 1.65, -0.15, 2.5, -0.25,
               1.75, -0.75, 1.05, -1.25, 0.65, -0.65, 0.45, -0.45, 0.55, -0.55,
               0.45, -0.35, 0.25, -0.65, 0.55, -0.25, 0.35, -0.55, 0.45, -0.35,
               0.25, -0.85, 0.55, -0.25, 0.35, -0.45, 0.45, -0.15, 0.25, -0.35,
               0.35, -0.25, 0.15, -0.15, 0.45, -0.35, 2.65, 0.25, 2.05, 0.05,
               2.45, -0.25, -1.75, 0.65, -1.25, 0.05, -1.15, 0.45, -0.95, 0.25,
               -1.75, 0.25, -1.25, 0.75, -1.35, 0.15, -0.95, 0.45, -1.15, 0.25,
               0.15, -1.25, 0.45, -1.45, 1.15, -1.05, 0.25, -1.25, 0.35, -0.95,
               0.35, -1.25, 0.15, -1.45, 0.55, -1.05, 0.05, -1.15, 0.45, -1.25,
               0.55, -1.35, 1.05, -0.85, 1.9, -0.75, 0.85, -0.45, 1.05, -0.65,
               1.9, -0.55, 0.75, -1.05, 0.45, -0.45, 1.25, -0.55, 0.45, -0.45,
               0.25, -0.65, 0.45, -0.45, 0.15, -0.55, 0.35, -0.35, 0.45, -0.45,
               0.15, -0.35, 0.35, -0.55, 0.25, -0.25, 0.35, -0.45, 0.25, -0.35,
               0.35, -0.25, 2.35, 0.25, 1.75, 0.05, 2.25, -1.25, -0.25, -2.5,
               -0.25, -1.55, -0.15, -1.75, -0.35, -1.15, 0.25, -1.45, 0.05, -1.15,
               0.45, -1.35, 0.05, -0.85, 0.25, -1.15, 0.15, -1.55, 0.35, -0.95,
               0.35, -1.45, 0.25, -1.25, 0.05, -1.55, 0.15, -1.05, 0.35, -1.15,
               0.45, -1.45, 0.35, -0.85, 0.55, -1.65, 0.15, -0.95, 0.35, -0.75,
               0.85, -0.55, 1.05, -0.35, 1.15, -0.45, 0.85, -0.25, 2.15, -0.15,
               -1.35, 0.55, -0.75, 0.45, -0.65, 0.35, -0.45, 0.55, -0.55, 0.25,
               -0.55, 0.35, -0.95, 0.25, -0.45, 0.45, -0.65, 0.55, -0.35, 0.25,
               -0.55, 0.45, -0.65, 0.55, -0.45, 0.35, -1.15, 0.55, -0.35, 0.55]

y_ticks = [[-3, -2, -1, 0, 1, 2], [-2, -1, 0, 1, 2, 3], [7, 8, 9, 10, 11, 12],
           [-1.5, -1.0, -0.5, 0.0, 0.5], [-1.5, -1.0, -0.5, 0.0, 0.5, 1.0, 1.5, 2.0],
           [9.60, 9.65, 9.70, 9.75, 9.80],
           [-2, -1, 0, 1, 2], [-2, -1, 0, 1, 2], [-2, -1, 0, 1, 2]]
y_decimals = [0, 0, 0, 1, 1, 2, 0, 0, 0]
y_ranges = [(-3.35, 2.21), (-2.55, 3.05), (6.95, 12.65),
            (-1.72, 0.87), (-1.53, 2.23), (9.583, 9.8196),
            (-2.22, 2.35), (-2.28, 2.14), (-2.69, 2.9)]

device_series = [acc_x, acc_y, acc_z, grav_x, grav_y, grav_z, lin_x, lin_y, lin_z]
earth_series = [earth_acc_x, earth_acc_y, earth_acc_z, earth_grav_x, earth_grav_y, earth_grav_z,
                earth_lin_x, earth_lin_y, earth_lin_z]

# layout / styling
FONT = "Liberation Sans"
TXT = "#333333"
BG = "#EAEAF2"
col_left = [37, 52, 54]
col_fw = [324, 324, 322]
row_top = [23, 24, 26]
row_fh = [164, 165, 164]
row_bottom = [8, 8, 22]
title_standoff = [4, 2, 4]
legend_loc = [(153, 7), (154, 7), (154, 7), (192, 8), (193, 129), (193, 8), (118, 130), (64, 8), (118, 8)]
legend_pitch = [16, 15, 15, 14, 14, 14, 14, 14, 14]


def fmt(dec):
    return CustomJSTickFormatter(
        code="return (tick < -1e-9 ? '\u2212' : '') + Math.abs(tick).toFixed(%d);" % dec)


def xs_for(vals):
    return X10 if len(vals) == len(X10) else X20[:len(vals)]


panels = []
for i in range(9):
    r, c = divmod(i, 3)
    p = figure(frame_width=col_fw[c], frame_height=row_fh[r],
               min_border_left=col_left[c], min_border_right=10,
               min_border_top=row_top[r], min_border_bottom=row_bottom[r],
               x_range=Range1d(-140, 2930), y_range=Range1d(*y_ranges[i]),
               output_backend="svg", toolbar_location=None,
               background_fill_color=BG, border_fill_color="white",
               outline_line_color=None)
    p.title.text = titles[i]
    p.title.align = "center"
    p.title.text_font = FONT
    p.title.text_font_size = "12.5px"
    p.title.text_font_style = "normal"
    p.title.text_color = "#262626"
    p.title.standoff = title_standoff[r]

    p.xaxis.ticker = FixedTicker(ticks=X_TICKS)
    p.xgrid.ticker = FixedTicker(ticks=X_TICKS)
    p.xaxis.formatter = fmt(0)
    p.yaxis.ticker = FixedTicker(ticks=y_ticks[i])
    p.ygrid.ticker = FixedTicker(ticks=y_ticks[i])
    p.yaxis.formatter = fmt(y_decimals[i])
    for ax in (p.xaxis[0], p.yaxis[0]):
        ax.axis_line_color = None
        ax.major_tick_line_color = None
        ax.minor_tick_line_color = None
        ax.major_tick_in = 0
        ax.major_tick_out = 0
        ax.major_label_text_font = FONT
        ax.major_label_text_font_size = "10px"
        ax.major_label_text_color = TXT
    p.yaxis.major_label_standoff = 7
    p.xaxis.major_label_standoff = 5
    if r < 2:
        p.xaxis.visible = False
    p.grid.grid_line_color = "white"
    p.grid.grid_line_width = 1

    dv = device_series[i]
    ev = earth_series[i]
    lw_d = 1.6 if len(dv) == len(X10) else 1.8
    lw_e = 1.6 if len(ev) == len(X10) else 1.8
    r1 = p.line(xs_for(dv), dv, line_color="grey", line_width=lw_d, line_join="round")
    r2 = p.line(xs_for(ev), ev, line_color="green", line_width=lw_e, line_join="round")
    leg = Legend(items=[(titles[i], [r1]), (earth_labels[i], [r2])],
                 location=legend_loc[i], background_fill_alpha=0, border_line_color=None,
                 padding=0, margin=0, spacing=0, label_height=legend_pitch[i],
                 glyph_height=legend_pitch[i], glyph_width=23, label_standoff=7,
                 label_text_font=FONT, label_text_font_size="10px", label_text_color=TXT)
    p.add_layout(leg)
    panels.append(p)

layout = column(row(panels[0], panels[1], panels[2]),
                row(panels[3], panels[4], panels[5]),
                row(panels[6], panels[7], panels[8]))

with open("out.html", "w", encoding="utf-8") as f:
    f.write(file_html(layout, INLINE))
